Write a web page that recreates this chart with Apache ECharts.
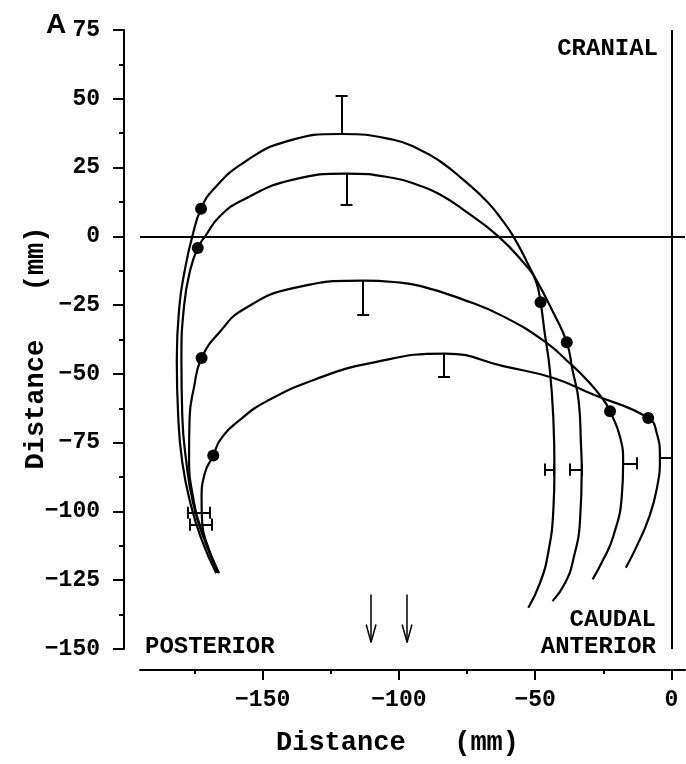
<!DOCTYPE html>
<html>
<head>
<meta charset="utf-8">
<title>Distance loops</title>
<script src="https://cdn.jsdelivr.net/npm/echarts@6/dist/echarts.min.js"></script>
<style>
  html, body { margin: 0; padding: 0; background: #fff; }
  #chart { width: 686px; height: 764px; }
</style>
</head>
<body>
<div id="chart"></div>
<script>
// traced loops, [x, y] in mm
const curve1 = [[-167, -122.5], [-172.5, -110], [-176.5, -97], [-179.5, -82], [-181, -65], [-181.5, -45], [-180.5, -25], [-178.5, -12], [-175.8, 0], [-172.6, 10], [-168.1, 17], [-157.1, 26.7], [-141.2, 34.5], [-121, 37.2], [-102, 35.1], [-92.3, 31.5], [-84.9, 27.3], [-76.4, 20.6], [-67.5, 12.5], [-61.8, 5.5], [-58, 0], [-53.1, -9.1], [-49.5, -16.9], [-48, -24], [-46.5, -35], [-44.6, -48.5], [-43.3, -66.6], [-42.9, -84.8], [-43.3, -99.3], [-45.2, -115], [-48.2, -126], [-52.5, -135]]
const curve2 = [[-166.5, -122], [-171.5, -110], [-175.5, -97], [-178, -82], [-179.5, -65], [-179.8, -45], [-178.8, -25], [-176.5, -12], [-173.8, -4.2], [-171.1, 0], [-165.7, 7.3], [-157.1, 13.3], [-138.8, 20.6], [-119.2, 22.8], [-102, 21.2], [-92.3, 18.4], [-84.9, 15.2], [-76.4, 9.7], [-63.5, 0], [-53.1, -10.9], [-50, -15.1], [-43.3, -27.8], [-38.4, -38.5], [-36.3, -48.5], [-34, -60], [-33.2, -75], [-32.9, -84.8], [-33.5, -103], [-36, -117.5], [-39, -126], [-43.6, -132.6]]
const curve3 = [[-166, -122.5], [-172, -108], [-175.5, -95], [-177, -80], [-176.8, -66], [-175.2, -55], [-172.4, -44.2], [-165.5, -34.5], [-157.1, -26.6], [-138.8, -18.8], [-113.1, -16.1], [-102, -16.6], [-92.3, -18], [-76.4, -23], [-61.7, -29.1], [-45.8, -38.7], [-38, -45.5], [-31.1, -52.1], [-25, -59.3], [-22.5, -63.6], [-18.9, -72.7], [-17.7, -82.3], [-18.2, -94.5], [-21.3, -109], [-25, -117.5], [-28.9, -124.7]]
const curve4 = [[-166.3, -122.3], [-170, -113], [-172.2, -104], [-172.4, -95.7], [-171.2, -86], [-168.1, -79.7], [-165.5, -73.9], [-158.2, -66.6], [-148.6, -60], [-131, -52.1], [-110, -46], [-83, -42.6], [-61.7, -47.2], [-43.3, -51.5], [-28.7, -57.5], [-8.5, -66], [-5.4, -71.4], [-4.2, -80.5], [-5.4, -92], [-8.5, -103], [-12.7, -112.6], [-16.7, -120.5]]

const dots = [[-172.6, 10], [-173.8, -4.2], [-172.4, -44.2], [-168.1, -79.7], [-48, -24], [-38.4, -38.5], [-22.5, -63.6], [-8.5, -66]]

// vertical error bars at the tops: x, from, to
const vBarX = [-121, -119.2, -113.1, -83.4]
const vBarFrom = [37.2, 22.8, -16.1, -42.6]
const vBarTo = [51.2, 11.3, -28.5, -51.2]
// horizontal error bars: y, from, to
const hBarY = [-84.8, -84.8, -82.5, -80.5, -100.5, -104.8]
const hBarFrom = [-43.2, -33, -17.7, -4.2, -177.3, -176.7]
const hBarTo = [-46.6, -37.3, -12.7, 0, -169.3, -168.7]

const arrowX = [-110.2, -97]
const arrowTop = -130.2
const arrowTip = -147.6

const xMinorTicks = [-175, -150, -125, -100, -75, -50, -25, 0]
const xLabels = [-150, -100, -50, 0]

const font = 'Liberation Mono'
const minus = v => String(v).replace('-', '\u2212')

const cap = 2.2
const segs = []
vBarX.forEach((x, i) => {
  segs.push([[x, vBarFrom[i]], [x, vBarTo[i]]])
  segs.push([[x - cap, vBarTo[i]], [x + cap, vBarTo[i]]])
})
hBarY.forEach((y, i) => {
  segs.push([[hBarFrom[i], y], [hBarTo[i], y]])
  segs.push([[hBarTo[i], y - cap], [hBarTo[i], y + cap]])
  segs.push([[hBarFrom[i], y - cap], [hBarFrom[i], y + cap]])
})
const arrowSegs = []
arrowX.forEach(x => {
  arrowSegs.push([[x, arrowTop], [x, arrowTip]])
  arrowSegs.push([[x - 1.8, arrowTip + 6.5], [x, arrowTip]])
  arrowSegs.push([[x + 1.8, arrowTip + 6.5], [x, arrowTip]])
})

const chart = echarts.init(document.getElementById('chart'))

function loop(name, data) {
  return {
    name: name,
    type: 'line',
    data: data,
    smooth: 0.5,
    showSymbol: false,
    lineStyle: { color: '#000', width: 2.2 },
    z: 3
  }
}

const option = {
  animation: false,
  backgroundColor: '#fff',
  grid: { left: 140, top: 30, width: 545, height: 619 },
  xAxis: [
    {
      type: 'value',
      min: -195,
      max: 5,
      offset: 21,
      position: 'bottom',
      splitLine: { show: false },
      axisLine: { show: true, onZero: false, lineStyle: { color: '#000', width: 2 } },
      axisTick: { show: true, customValues: xMinorTicks, length: 4, lineStyle: { color: '#000', width: 2 } },
      axisLabel: {
        customValues: xLabels,
        margin: 19,
        color: '#000',
        fontFamily: font,
        fontWeight: 'bold',
        fontSize: 23,
        formatter: minus
      },
      name: 'Distance   (mm)',
      nameLocation: 'middle',
      nameGap: 60,
      nameMoveOverlap: false,
      nameTextStyle: { color: '#000', fontFamily: font, fontWeight: 'bold', fontSize: 27, padding: [0, 30, 0, 0] }
    },
    {
      // longer ticks under the labelled values
      type: 'value',
      min: -195,
      max: 5,
      offset: 21,
      position: 'bottom',
      splitLine: { show: false },
      axisLine: { show: false, onZero: false },
      axisTick: { show: true, customValues: xLabels, length: 10, lineStyle: { color: '#000', width: 2 } },
      axisLabel: { show: false }
    }
  ],
  yAxis: {
    type: 'value',
    min: -150,
    max: 75,
    interval: 25,
    offset: 16,
    splitLine: { show: false },
    axisLine: { show: true, onZero: false, lineStyle: { color: '#000', width: 2 } },
    axisTick: { show: true, length: 11, lineStyle: { color: '#000', width: 2 } },
    minorTick: { show: true, splitNumber: 2, length: 5, lineStyle: { color: '#000', width: 2 } },
    axisLabel: {
      margin: 24,
      color: '#000',
      fontFamily: font,
      fontWeight: 'bold',
      fontSize: 23,
      formatter: minus
    },
    name: 'Distance   (mm)',
    nameLocation: 'middle',
    nameGap: 74,
    nameMoveOverlap: false,
    nameTextStyle: { color: '#000', fontFamily: font, fontWeight: 'bold', fontSize: 27, padding: [0, 17, 0, 0] }
  },
  graphic: [
    { type: 'text', left: 46, top: 11, style: { text: 'A', fill: '#000', font: 'bold 28px "Liberation Sans"' } },
    { type: 'text', x: 658, y: 49, style: { text: 'CRANIAL', fill: '#000', font: 'bold 24px "Liberation Mono"', align: 'right', verticalAlign: 'middle' } },
    { type: 'text', x: 145, y: 647, style: { text: 'POSTERIOR', fill: '#000', font: 'bold 24px "Liberation Mono"', align: 'left', verticalAlign: 'middle' } },
    { type: 'text', x: 656, y: 620, style: { text: 'CAUDAL', fill: '#000', font: 'bold 24px "Liberation Mono"', align: 'right', verticalAlign: 'middle' } },
    { type: 'text', x: 656, y: 647, style: { text: 'ANTERIOR', fill: '#000', font: 'bold 24px "Liberation Mono"', align: 'right', verticalAlign: 'middle' } }
  ],
  series: [
    Object.assign(loop('loop1', curve1), {
      markLine: {
        silent: true,
        symbol: 'none',
        label: { show: false },
        lineStyle: { color: '#000', type: 'solid', width: 2 },
        data: [{ yAxis: 0 }, { xAxis: 0 }]
      }
    }),
    loop('loop2', curve2),
    loop('loop3', curve3),
    loop('loop4', curve4),
    {
      name: 'errorBars',
      type: 'lines',
      coordinateSystem: 'cartesian2d',
      polyline: false,
      lineStyle: { color: '#000', width: 2, opacity: 1, curveness: 0 },
      data: segs.map(s => ({ coords: s })),
      z: 3
    },
    {
      name: 'arrows',
      type: 'lines',
      coordinateSystem: 'cartesian2d',
      polyline: false,
      lineStyle: { color: '#000', width: 1.5, opacity: 1, curveness: 0 },
      data: arrowSegs.map(s => ({ coords: s })),
      z: 3
    },
    {
      name: 'points',
      type: 'scatter',
      data: dots,
      symbol: 'circle',
      symbolSize: 12,
      itemStyle: { color: '#000', opacity: 1 },
      z: 4
    }
  ]
}
chart.setOption(option)
</script>
</body>
</html>
